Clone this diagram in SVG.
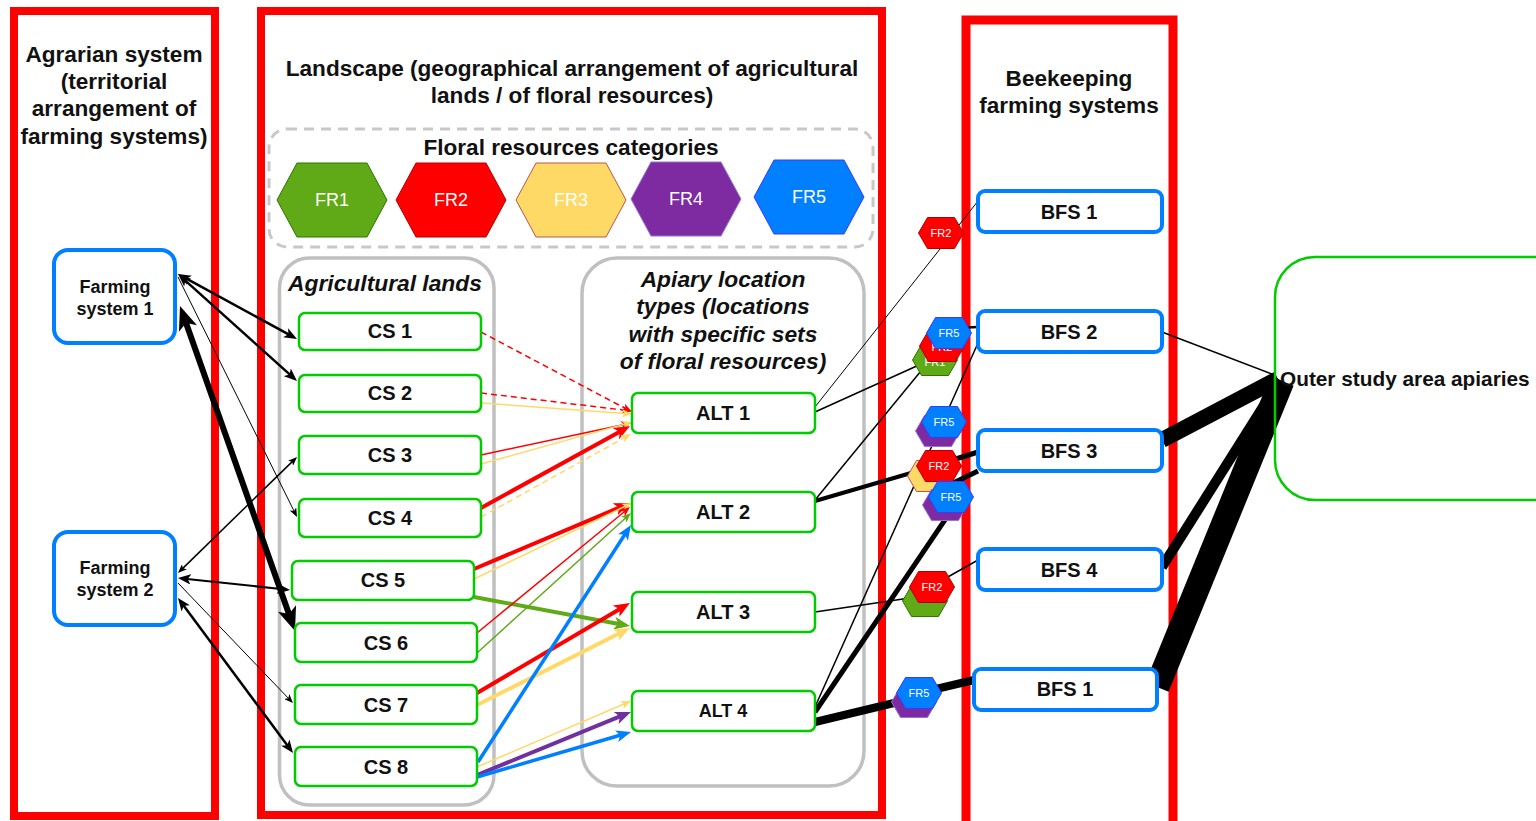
<svg xmlns="http://www.w3.org/2000/svg" xmlns:xlink="http://www.w3.org/1999/xlink" width="1536" height="821" viewBox="0 0 1536 821">
<style>
text{font-family:"Liberation Sans",Arial,sans-serif;dominant-baseline:central;text-anchor:middle}
.t{font-size:22.6px;font-weight:bold;fill:#111}
.ti{font-size:22.8px;font-weight:bold;font-style:italic;fill:#111}
.frame{fill:none;stroke:#ff0000}
.cont{fill:none;stroke:#c0c0c0;stroke-width:3.5}
.cs{fill:#fff;stroke:#00cc00;stroke-width:2.5}
.bl{fill:#fff;stroke:#007fff;stroke-width:4}
.lbl{font-size:20px;font-weight:bold;fill:#111}
.hl{font-size:18px;fill:#fff}
.hs{font-size:11px;fill:#fff}
.fr1{fill:#60a917;stroke:#2d7600;stroke-width:1}
.fr2{fill:#ff0000;stroke:#b20000;stroke-width:1}
.fr3{fill:#ffd966;stroke:#b85450;stroke-width:1}
.fr4{fill:#7e2aa1;stroke:#9673d6;stroke-width:1}
.fr5{fill:#007fff;stroke:#3a3aff;stroke-width:1}
.k{stroke:#000;fill:none}
.r{stroke:#ff0000;fill:none}
.y{stroke:#ffd966;fill:none}
.g{stroke:#60a917;fill:none}
.b{stroke:#007fff;fill:none}
.p{stroke:#7030a0;fill:none}
</style>
<defs>
<polygon id="hexL" points="-55,0 -35,-37 35,-37 55,0 35,37 -35,37"/>
<polygon id="hexS" points="-22.5,0 -13.5,-15.5 13.5,-15.5 22.5,0 13.5,15.5 -13.5,15.5"/>
<marker id="kS" viewBox="0 0 10 8" refX="3" refY="4" markerUnits="userSpaceOnUse" markerWidth="9" markerHeight="7.2" orient="auto-start-reverse"><path d="M0,0 L10,4 L0,8 L2.5,4 z" fill="#000"/></marker>
<marker id="kM" viewBox="0 0 10 8" refX="3" refY="4" markerUnits="userSpaceOnUse" markerWidth="13" markerHeight="10.4" orient="auto-start-reverse"><path d="M0,0 L10,4 L0,8 L2.5,4 z" fill="#000"/></marker>
<marker id="kL" viewBox="0 0 10 8" refX="3" refY="4" markerUnits="userSpaceOnUse" markerWidth="24" markerHeight="19.2" orient="auto-start-reverse"><path d="M0,0 L10,4 L0,8 L2.5,4 z" fill="#000"/></marker>
<marker id="rS" viewBox="0 0 10 8" refX="3" refY="4" markerUnits="userSpaceOnUse" markerWidth="10" markerHeight="8" orient="auto"><path d="M0,0 L10,4 L0,8 L2.5,4 z" fill="#ff0000"/></marker>
<marker id="rL" viewBox="0 0 10 8" refX="3" refY="4" markerUnits="userSpaceOnUse" markerWidth="16" markerHeight="12.8" orient="auto"><path d="M0,0 L10,4 L0,8 L2.5,4 z" fill="#ff0000"/></marker>
<marker id="yS" viewBox="0 0 10 8" refX="3" refY="4" markerUnits="userSpaceOnUse" markerWidth="10" markerHeight="8" orient="auto"><path d="M0,0 L10,4 L0,8 L2.5,4 z" fill="#ffd966"/></marker>
<marker id="yL" viewBox="0 0 10 8" refX="3" refY="4" markerUnits="userSpaceOnUse" markerWidth="16" markerHeight="12.8" orient="auto"><path d="M0,0 L10,4 L0,8 L2.5,4 z" fill="#ffd966"/></marker>
<marker id="gS" viewBox="0 0 10 8" refX="3" refY="4" markerUnits="userSpaceOnUse" markerWidth="10" markerHeight="8" orient="auto"><path d="M0,0 L10,4 L0,8 L2.5,4 z" fill="#60a917"/></marker>
<marker id="gL" viewBox="0 0 10 8" refX="3" refY="4" markerUnits="userSpaceOnUse" markerWidth="16" markerHeight="12.8" orient="auto"><path d="M0,0 L10,4 L0,8 L2.5,4 z" fill="#60a917"/></marker>
<marker id="bL" viewBox="0 0 10 8" refX="3" refY="4" markerUnits="userSpaceOnUse" markerWidth="15" markerHeight="12" orient="auto"><path d="M0,0 L10,4 L0,8 L2.5,4 z" fill="#007fff"/></marker>
<marker id="pL" viewBox="0 0 10 8" refX="3" refY="4" markerUnits="userSpaceOnUse" markerWidth="16" markerHeight="12.8" orient="auto"><path d="M0,0 L10,4 L0,8 L2.5,4 z" fill="#7030a0"/></marker>
</defs>
<rect width="1536" height="821" fill="#fff"/>

<g id="frames">
<rect class="frame" x="14" y="11" width="201" height="805" stroke-width="8"/>
<rect class="frame" x="261" y="11" width="621" height="804" stroke-width="8"/>
<rect class="frame" x="966" y="20" width="207" height="820" stroke-width="9"/>
</g>

<g id="titles">
<text class="t" x="114" y="54">Agrarian system</text>
<text class="t" x="114" y="81">(territorial</text>
<text class="t" x="114" y="108">arrangement of</text>
<text class="t" x="114" y="136">farming systems)</text>
<text class="t" x="572" y="68">Landscape (geographical arrangement of agricultural</text>
<text class="t" x="572" y="95">lands / of floral resources)</text>
<text class="t" x="1069" y="78">Beekeeping</text>
<text class="t" x="1069" y="105">farming systems</text>
</g>

<g id="floral-categories">
<rect x="269" y="129" width="604" height="118" rx="18" fill="none" stroke="#c8c8c8" stroke-width="3" stroke-dasharray="10 7"/>
<text class="t" x="571" y="147">Floral resources categories</text>
<g id="FR1"><use href="#hexL" x="332" y="200" class="fr1"/><text class="hl" x="332" y="200">FR1</text></g>
<g id="FR2"><use href="#hexL" x="451" y="200" class="fr2"/><text class="hl" x="451" y="200">FR2</text></g>
<g id="FR3"><use href="#hexL" x="571" y="200" class="fr3"/><text class="hl" x="571" y="200">FR3</text></g>
<g id="FR4"><use href="#hexL" x="686" y="199" class="fr4"/><text class="hl" x="686" y="199">FR4</text></g>
<g id="FR5"><use href="#hexL" x="809" y="197" class="fr5"/><text class="hl" x="809" y="197">FR5</text></g>
</g>

<g id="agricultural-lands">
<rect class="cont" x="279.5" y="258" width="214.5" height="547" rx="30"/>
<text class="ti" x="385" y="283">Agricultural lands</text>
</g>
<g id="apiary-location-types">
<rect class="cont" x="582" y="258" width="282" height="528" rx="35"/>
<text class="ti" x="723" y="279">Apiary location</text>
<text class="ti" x="723" y="306">types (locations</text>
<text class="ti" x="723" y="334">with specific sets</text>
<text class="ti" x="723" y="361">of floral resources)</text>
</g>

<g id="connectors">
<!-- farming systems to cropping systems -->
<line class="k" x1="186" y1="278.4" x2="289" y2="334.6" stroke-width="2.5" marker-start="url(#kM)" marker-end="url(#kM)"/>
<line class="k" x1="184.8" y1="280.1" x2="290.2" y2="374.9" stroke-width="2.5" marker-start="url(#kM)" marker-end="url(#kM)"/>
<line class="k" x1="178" y1="277" x2="294.2" y2="511.4" stroke-width="1" marker-end="url(#kS)"/>
<line class="k" x1="185.6" y1="321.8" x2="289.4" y2="615.2" stroke-width="6" marker-start="url(#kL)" marker-end="url(#kL)"/>
<line class="k" x1="182.5" y1="568.6" x2="292.5" y2="461.4" stroke-width="1.5" marker-start="url(#kS)" marker-end="url(#kS)"/>
<line class="k" x1="187" y1="579" x2="281" y2="589" stroke-width="2" marker-start="url(#kM)" marker-end="url(#kM)"/>
<line class="k" x1="178" y1="583" x2="288.6" y2="698.5" stroke-width="1" marker-end="url(#kS)"/>
<line class="k" x1="183.4" y1="605.3" x2="287.6" y2="745.7" stroke-width="2.5" marker-start="url(#kM)" marker-end="url(#kM)"/>
<!-- cropping systems to apiary location types -->
<line class="r" x1="481" y1="332" x2="625.8" y2="408.7" stroke-width="1.5" stroke-dasharray="6 4" marker-end="url(#rS)"/>
<line class="r" x1="481" y1="393" x2="625" y2="410.2" stroke-width="1.5" stroke-dasharray="6 4" marker-end="url(#rS)"/>
<line class="y" x1="481" y1="403" x2="625" y2="413.5" stroke-width="1.5" marker-end="url(#yS)"/>
<line class="r" x1="481" y1="455" x2="624.2" y2="424.5" stroke-width="1.5" marker-end="url(#rS)"/>
<line class="y" x1="481" y1="464" x2="625.3" y2="423.9" stroke-width="1.5" marker-end="url(#yS)"/>
<line class="r" x1="481" y1="508" x2="620.2" y2="431.4" stroke-width="4" marker-end="url(#rL)"/>
<line class="y" x1="481" y1="517" x2="624.9" y2="437.4" stroke-width="1.5" stroke-dasharray="6 4" marker-end="url(#yS)"/>
<line class="r" x1="474" y1="569" x2="619.7" y2="507.4" stroke-width="4" marker-end="url(#rL)"/>
<line class="y" x1="474" y1="579" x2="625.7" y2="506" stroke-width="1.5" marker-end="url(#yS)"/>
<line class="g" x1="474" y1="597" x2="619" y2="624" stroke-width="4" marker-end="url(#gL)"/>
<line class="r" x1="477" y1="633" x2="624.6" y2="511.5" stroke-width="1.5" marker-end="url(#rS)"/>
<line class="g" x1="477" y1="653" x2="625.8" y2="517.7" stroke-width="1.5" marker-end="url(#gS)"/>
<line class="r" x1="477" y1="693" x2="620.3" y2="608.7" stroke-width="4" marker-end="url(#rL)"/>
<line class="y" x1="477" y1="705" x2="620" y2="633" stroke-width="4" marker-end="url(#yL)"/>
<line class="b" x1="478" y1="762" x2="625.3" y2="533.8" stroke-width="3.5" marker-end="url(#bL)"/>
<line class="y" x1="477" y1="767" x2="624.6" y2="703.8" stroke-width="1.5" marker-end="url(#yS)"/>
<line class="p" x1="477" y1="775" x2="620.6" y2="716.2" stroke-width="4" marker-end="url(#pL)"/>
<line class="b" x1="477" y1="777" x2="620.9" y2="735" stroke-width="3.5" marker-end="url(#bL)"/>
<!-- apiary location types to beekeeping farming systems -->
<line class="k" x1="815" y1="407" x2="978" y2="201" stroke-width="1"/>
<line class="k" x1="815" y1="412" x2="930" y2="360" stroke-width="1.5"/>
<line class="k" x1="815" y1="500" x2="930" y2="360" stroke-width="1.5"/>
<line class="k" x1="955" y1="328" x2="978" y2="327" stroke-width="2.5"/>
<line class="k" x1="978" y1="343" x2="815" y2="707" stroke-width="1.5"/>
<line class="k" x1="815" y1="501" x2="935" y2="466" stroke-width="4"/>
<line class="k" x1="940" y1="464" x2="978" y2="452" stroke-width="5"/>
<line class="k" x1="815" y1="712" x2="955" y2="505" stroke-width="5"/>
<line class="k" x1="945" y1="487" x2="978" y2="471" stroke-width="5"/>
<line class="k" x1="815" y1="612" x2="930" y2="595" stroke-width="1.5"/>
<line class="k" x1="930" y1="587" x2="978" y2="560" stroke-width="1.5"/>
<line class="k" x1="815" y1="722" x2="919" y2="697" stroke-width="8"/>
<line class="k" x1="919" y1="693" x2="974" y2="680" stroke-width="8"/>
<!-- beekeeping farming systems to outer study area -->
<line class="k" x1="1162" y1="332" x2="1272" y2="374" stroke-width="1.5"/>
<line class="k" x1="1162" y1="440" x2="1278" y2="379" stroke-width="16"/>
<line class="k" x1="1162" y1="567" x2="1280" y2="380" stroke-width="10"/>
<line class="k" x1="1157" y1="687" x2="1282" y2="381" stroke-width="25"/>
</g>

<g id="farming-system-1"><rect class="bl" x="54" y="250" width="121" height="93" rx="14"/><text class="lbl" style="font-size:18px" x="115" y="287">Farming</text><text class="lbl" style="font-size:18px" x="115" y="309">system 1</text></g>
<g id="farming-system-2"><rect class="bl" x="54" y="532" width="121" height="93" rx="14"/><text class="lbl" style="font-size:18px" x="115" y="568">Farming</text><text class="lbl" style="font-size:18px" x="115" y="590">system 2</text></g>

<g id="CS1"><rect class="cs" x="299" y="313" width="182" height="37" rx="6"/><text class="lbl" x="390" y="331">CS 1</text></g>
<g id="CS2"><rect class="cs" x="299" y="375" width="182" height="37" rx="6"/><text class="lbl" x="390" y="393">CS 2</text></g>
<g id="CS3"><rect class="cs" x="299" y="436" width="182" height="38" rx="6"/><text class="lbl" x="390" y="455">CS 3</text></g>
<g id="CS4"><rect class="cs" x="299" y="499" width="182" height="38" rx="6"/><text class="lbl" x="390" y="518">CS 4</text></g>
<g id="CS5"><rect class="cs" x="292" y="561" width="182" height="39" rx="6"/><text class="lbl" x="383" y="580">CS 5</text></g>
<g id="CS6"><rect class="cs" x="295" y="623" width="182" height="39" rx="6"/><text class="lbl" x="386" y="643">CS 6</text></g>
<g id="CS7"><rect class="cs" x="295" y="685" width="182" height="39" rx="6"/><text class="lbl" x="386" y="705">CS 7</text></g>
<g id="CS8"><rect class="cs" x="295" y="747" width="182" height="39" rx="6"/><text class="lbl" x="386" y="767">CS 8</text></g>

<g id="ALT1"><rect class="cs" x="632" y="393" width="183" height="40" rx="6"/><text class="lbl" x="723" y="413">ALT 1</text></g>
<g id="ALT2"><rect class="cs" x="632" y="492" width="183" height="40" rx="6"/><text class="lbl" x="723" y="512">ALT 2</text></g>
<g id="ALT3"><rect class="cs" x="632" y="592" width="183" height="40" rx="6"/><text class="lbl" x="723" y="612">ALT 3</text></g>
<g id="ALT4"><rect class="cs" x="632" y="691" width="183" height="40" rx="6"/><text class="lbl" style="font-size:18px" x="723" y="711">ALT 4</text></g>

<g id="BFS1"><rect class="bl" x="978" y="191" width="184" height="41" rx="7"/><text class="lbl" x="1069" y="212">BFS 1</text></g>
<g id="BFS2"><rect class="bl" x="978" y="311" width="184" height="41" rx="7"/><text class="lbl" x="1069" y="332">BFS 2</text></g>
<g id="BFS3"><rect class="bl" x="978" y="430" width="184" height="41" rx="7"/><text class="lbl" x="1069" y="451">BFS 3</text></g>
<g id="BFS4"><rect class="bl" x="978" y="549" width="184" height="41" rx="7"/><text class="lbl" x="1069" y="570">BFS 4</text></g>
<g id="BFS1b"><rect class="bl" x="974" y="669" width="183" height="41" rx="7"/><text class="lbl" x="1065" y="689">BFS 1</text></g>

<g id="outer-study-area"><rect x="1275" y="257" width="300" height="243" rx="40" fill="none" stroke="#00cc00" stroke-width="2.5"/><text class="lbl" style="text-anchor:start;font-size:20.8px" x="1280" y="378">Outer study area apiaries</text></g>

<g id="link-hexagons">
<g id="h1"><use href="#hexS" x="941" y="233" class="fr2"/><text class="hs" x="941" y="233">FR2</text></g>
<g id="h2"><use href="#hexS" x="935" y="360" class="fr1"/><text class="hs" x="935" y="362">FR1</text><use href="#hexS" x="942" y="346" class="fr2"/><text class="hs" x="942" y="347">FR2</text><use href="#hexS" x="949" y="333" class="fr5"/><text class="hs" x="949" y="333">FR5</text></g>
<g id="h3"><use href="#hexS" x="938" y="431" class="fr4"/><use href="#hexS" x="944" y="422" class="fr5"/><text class="hs" x="944" y="422">FR5</text></g>
<g id="h4"><use href="#hexS" x="930" y="476" class="fr3"/><use href="#hexS" x="939" y="466" class="fr2"/><text class="hs" x="939" y="466">FR2</text></g>
<g id="h5"><use href="#hexS" x="945" y="505" class="fr4"/><use href="#hexS" x="951" y="497" class="fr5"/><text class="hs" x="951" y="497">FR5</text></g>
<g id="h6"><use href="#hexS" x="925" y="601" class="fr1"/><use href="#hexS" x="932" y="587" class="fr2"/><text class="hs" x="932" y="587">FR2</text></g>
<g id="h7"><use href="#hexS" x="914" y="702" class="fr4"/><use href="#hexS" x="919" y="693" class="fr5"/><text class="hs" x="919" y="693">FR5</text></g>
</g>
</svg>
